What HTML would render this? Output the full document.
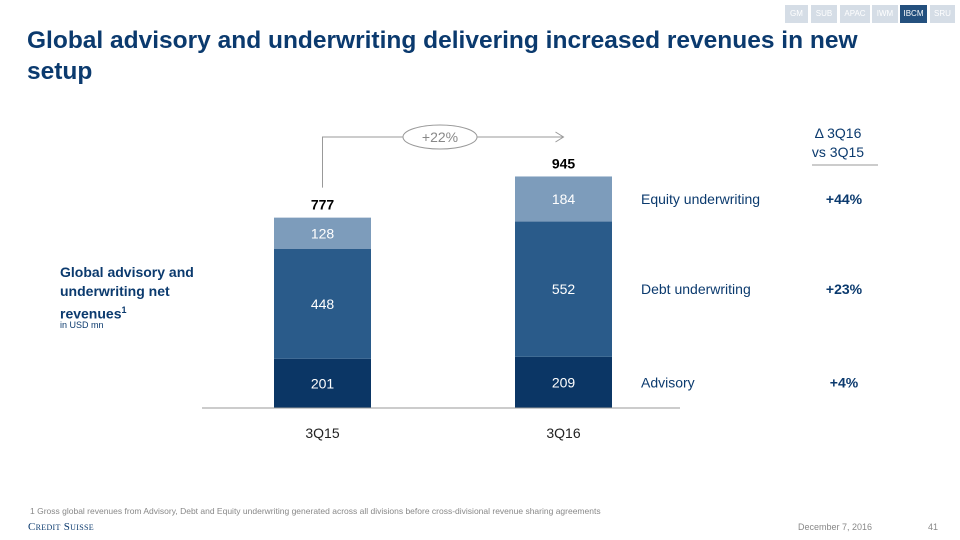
<!DOCTYPE html>
<html><head><meta charset="utf-8">
<style>
body{margin:0;background:#fff;font-family:"Liberation Sans",sans-serif;}
#wrap{position:relative;width:960px;height:540px;overflow:hidden;background:#fff;}
.tab{position:absolute;top:5px;height:18px;font-size:8px;color:#fff;background:#d5dde6;text-align:center;line-height:18px;}
</style></head><body>
<div id="wrap">
<div class="tab" style="left:785px;width:23px">GM</div>
<div class="tab" style="left:811px;width:26px">SUB</div>
<div class="tab" style="left:840px;width:30px">APAC</div>
<div class="tab" style="left:872px;width:26px">IWM</div>
<div class="tab" style="left:900px;width:27px;background:#24507e">IBCM</div>
<div class="tab" style="left:930px;width:25px">SRU</div>
<div style="position:absolute;left:27px;top:25px;width:880px;font-size:24.5px;font-weight:bold;color:#0b3a6e;line-height:31px">Global advisory and underwriting delivering increased revenues in new setup</div>
<div style="position:absolute;left:60px;top:263px;font-size:14px;font-weight:bold;color:#0b3a6e;line-height:19px">Global advisory and<br>underwriting net<br>revenues<sup style="font-size:9px">1</sup></div>
<div style="position:absolute;left:60px;top:320px;font-size:9px;color:#0b3a6e">in USD mn</div>
<svg id="chart" width="960" height="540" style="position:absolute;left:0;top:0"></svg>
<div style="position:absolute;left:30px;top:506px;font-size:8.5px;color:#888">1 Gross global revenues from Advisory, Debt and Equity underwriting generated across all divisions before cross-divisional revenue sharing agreements</div>
<div style="position:absolute;left:28px;top:521px;font-family:'Liberation Serif',serif;font-size:11px;color:#0b3a6e;letter-spacing:0.3px">C<span style="font-size:8px">REDIT</span> S<span style="font-size:8px">UISSE</span></div>
<div style="position:absolute;left:798px;top:522px;font-size:9px;color:#888">December 7, 2016</div>
<div style="position:absolute;left:928px;top:522px;font-size:9px;color:#888">41</div>
</div>
<script>
const categories=["3Q15","3Q16"];
const advisory=[201,209];
const debt=[448,552];
const equity=[128,184];
const totals=[777,945];
const seriesNames=["Advisory","Debt underwriting","Equity underwriting"];
const deltas=["+4%","+23%","+44%"];
const growth="+22%";
const NS="http://www.w3.org/2000/svg";
const svg=document.getElementById('chart');
const base=408, k=0.245, bw=97, xs=[274,515];
const colors=["#0b3665","#2a5b8a","#7d9cbb"];
function y(v){return base-v*k;}
function el(t,a){const e=document.createElementNS(NS,t);for(const n in a)e.setAttribute(n,a[n]);svg.appendChild(e);return e;}
function txt(x,yy,s,a){const e=el('text',Object.assign({x:x,y:yy,'font-family':'Liberation Sans, sans-serif'},a));e.textContent=s;return e;}
const series=[advisory,debt,equity];
const tops=[];
categories.forEach((c,i)=>{
  let cum=0;
  series.forEach((s,j)=>{
    const r=el('rect',{x:xs[i],y:y(cum+s[i]),width:bw,height:s[i]*k,fill:colors[j]});
    
    
    const t=txt(xs[i]+bw/2,y(cum+s[i]/2)+5,s[i],{fill:'#fff','font-size':14,'text-anchor':'middle'});
    
    
    cum+=s[i];
  });
  tops.push(y(totals[i]));
  const tl=txt(xs[i]+bw/2,y(totals[i])-8,totals[i],{fill:'#000','font-size':14,'font-weight':'bold','text-anchor':'middle'});
  
  
  const cl=txt(xs[i]+bw/2,438,c,{fill:'#222','font-size':14,'text-anchor':'middle'});
  
  
});
const ax=el('line',{x1:202,x2:680,y1:base,y2:base,stroke:'#999','stroke-width':1});


const ay=137, lx=xs[0]+bw/2, rx=xs[1]+bw/2;
const p=el('path',{d:`M${lx} ${tops[0]-30} V${ay} H${rx} M${rx-8} ${ay-5} L${rx} ${ay} L${rx-8} ${ay+5}`,fill:'none',stroke:'#999','stroke-width':1});


const ov=el('ellipse',{cx:440,cy:ay,rx:37,ry:12,fill:'#fff',stroke:'#999'});


const gt=txt(440,ay+5,growth,{fill:'#888','font-size':14,'text-anchor':'middle'});


const cum3=[advisory[1],advisory[1]+debt[1],totals[1]];
series.forEach((s,j)=>{
  const mid=y(cum3[j]-s[1]/2)+5;
  const l=txt(641,mid,seriesNames[j],{fill:'#0b3a6e','font-size':14});
  
  
  const d=txt(844,mid,deltas[j],{fill:'#0b3a6e','font-size':14,'font-weight':'bold','text-anchor':'middle'});
  
  
});
const h1=txt(838,138,"\u0394 3Q16",{fill:'#0b3a6e','font-size':14,'text-anchor':'middle'});


const h2=txt(838,157,"vs 3Q15",{fill:'#0b3a6e','font-size':14,'text-anchor':'middle'});


const hl=el('line',{x1:812,x2:878,y1:165,y2:165,stroke:'#999'});


</script>
</body></html>
